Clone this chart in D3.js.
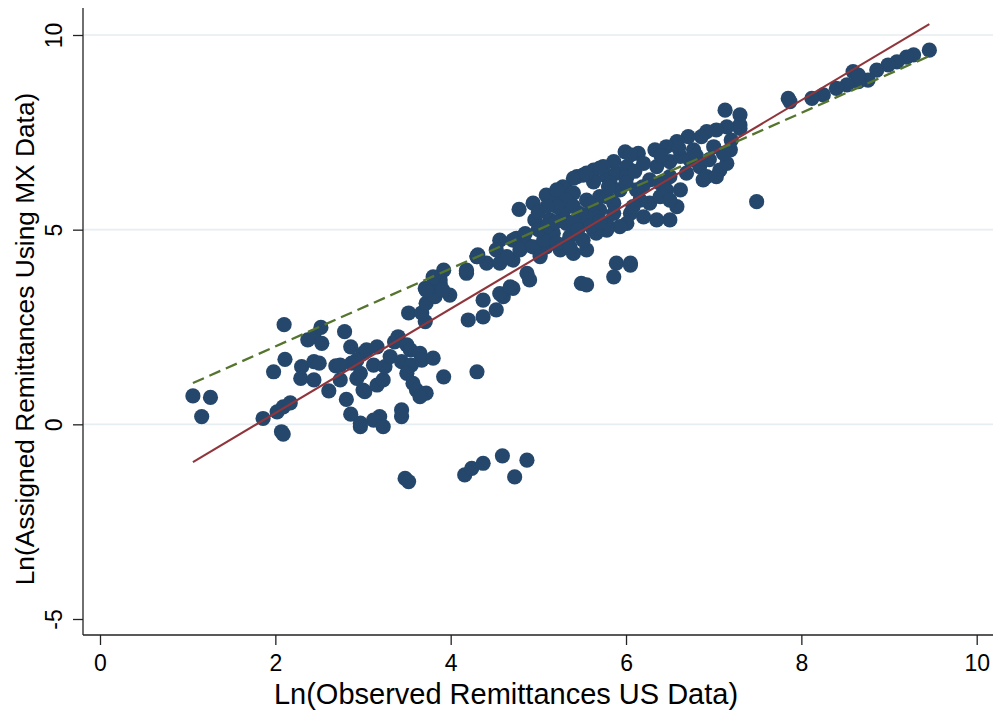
<!DOCTYPE html>
<html>
<head>
<meta charset="utf-8">
<script src="https://cdn.jsdelivr.net/npm/d3@7/dist/d3.min.js"></script>
<style>
  body { margin: 0; background: #fff; }
  svg { display: block; font-family: "Liberation Sans", Arial, Helvetica, sans-serif; }
</style>
</head>
<body>
<svg id="chart" width="996" height="711"></svg>
<script>
// Observed (US data) vs assigned (MX data) log remittances
const obsUS = [
  1.06, 1.26, 1.16, 2.10, 2.11, 1.98, 1.86, 2.02, 2.09, 2.17, 2.07, 2.09, 2.30, 2.29, 2.37, 2.44, 2.52, 2.53, 2.44, 2.50,
  2.44, 2.69, 2.61, 2.79, 2.86, 2.81, 2.86, 2.97, 2.74, 2.93, 2.87, 3.00, 3.00,
  2.74, 2.93, 3.04, 3.16, 2.97, 3.12, 3.02, 3.16, 3.23, 3.25, 3.31, 3.36, 3.40, 3.50, 3.54, 3.44, 3.55, 3.65, 3.67, 3.80,
  3.50, 3.57, 3.61, 3.72, 3.65, 3.92, 4.30, 3.19, 3.12, 2.97, 3.44, 3.44, 3.23,
  3.52, 3.71, 3.67, 3.72, 3.76, 3.71, 3.88, 3.92, 3.99, 3.82, 4.20, 4.37, 4.37, 4.52, 4.60, 4.71, 4.18, 4.30, 4.41, 4.56, 4.71,
  4.16, 4.24, 4.37, 4.59, 4.73, 4.87, 3.48, 3.52,
  4.78, 4.94, 5.09, 4.96, 5.21, 5.32, 5.44, 5.28, 5.47, 4.56, 4.75, 4.52, 4.31, 4.18, 3.88, 4.64, 4.87, 5.02, 5.09, 5.25,
  5.40, 5.55, 4.90, 4.87, 5.49, 5.89, 5.86, 5.17, 5.36, 5.63, 5.78, 5.70, 5.86, 5.55, 5.63, 5.78, 5.89,
  7.13, 7.30, 7.30, 7.15, 7.03, 6.92, 6.86, 6.71, 6.58, 6.46, 6.33, 6.14, 5.99, 5.86, 5.74, 5.63, 5.51, 5.40, 5.28, 6.01,
  6.01, 5.82, 5.63, 6.35, 6.50, 6.62, 6.77, 6.73, 6.27, 6.19, 6.39, 6.50, 6.69, 6.84, 6.92, 7.07, 7.15, 7.19, 7.11, 7.00,
  6.88, 7.03, 6.58, 6.50, 6.35, 6.20, 6.27, 6.39, 6.16, 6.05, 6.01, 5.86, 5.93, 5.78, 5.32, 6.05, 7.49, 5.40, 5.32, 5.70,
  5.93, 5.47, 5.66, 6.12, 6.46, 6.50, 6.62,
  9.46, 9.28, 9.20, 9.09, 8.99, 8.86, 8.76, 8.65, 8.59, 8.65, 8.52, 8.40, 8.25, 8.12, 7.85, 7.87, 7.30,
  5.55, 5.70, 6.05, 5.21, 5.21, 5.78, 5.13, 5.32, 5.55, 6.08, 4.71, 4.79, 4.94, 5.06, 5.21, 5.36, 5.51, 5.66, 5.02, 4.30,
  4.18, 3.80, 3.91, 3.72, 4.56, 4.68, 6.05, 7.20,
  5.00, 5.10, 5.20, 5.40, 5.45, 4.85, 5.60, 5.70, 5.00, 5.10, 5.40, 5.60, 5.80, 6.00, 6.10, 6.20, 6.40, 6.60, 6.80, 6.95,
  5.55
];
const assignedMX = [
  0.73, 0.69, 0.20, 2.56, 1.67, 1.35, 0.15, 0.32, 0.45, 0.55, -0.19, -0.25, 1.48, 1.18, 2.17, 2.25, 2.49, 2.08, 1.61, 1.57,
  1.14, 1.50, 0.86, 2.38, 1.99, 0.64, 0.26, -0.06, 1.14, 1.18, 1.57, 1.82, 0.88,
  1.52, 1.65, 1.91, 1.99, 1.31, 1.52, 0.84, 1.01, 1.14, 1.48, 1.74, 2.12, 2.25, 2.04, 1.91, 1.61, 1.52, 1.82, 1.65, 1.70,
  1.31, 1.05, 0.88, 0.80, 0.71, 1.22, 1.35, 0.20, 0.11, 0.03, 0.37, 0.20, -0.06,
  2.86, 2.64, 2.86, 3.11, 3.45, 3.49, 3.62, 3.96, 3.32, 3.28, 2.68, 3.19, 2.76, 2.94, 3.28, 3.49, 3.92, 4.31, 4.14, 4.14, 4.22,
  -1.30, -1.13, -1.00, -0.81, -1.35, -0.92, -1.39, -1.47,
  5.52, 5.68, 5.89, 5.25, 5.76, 6.02, 6.36, 5.42, 5.16, 4.73, 4.78, 4.48, 4.35, 3.88, 3.71, 4.31, 4.61, 4.39, 4.56, 4.48,
  4.39, 4.48, 3.71, 3.88, 3.62, 4.14, 3.79, 4.91, 4.82, 4.99, 5.16, 5.50, 5.68, 5.76, 6.27, 6.36, 6.45,
  8.07, 7.95, 7.69, 7.64, 7.56, 7.52, 7.39, 7.39, 7.26, 7.13, 7.05, 6.96, 7.00, 6.75, 6.62, 6.53, 6.40, 6.32, 6.10, 6.62,
  6.36, 6.19, 6.23, 6.62, 6.75, 6.88, 7.05, 6.79, 6.28, 6.10, 6.19, 6.36, 6.45, 6.62, 6.36, 6.53, 6.70, 7.05, 6.96, 7.13,
  6.28, 6.36, 5.59, 5.25, 5.25, 5.33, 5.68, 5.85, 5.76, 5.42, 5.16, 5.42, 5.08, 4.99, 4.65, 4.14, 5.72, 5.94, 5.76, 5.85,
  6.02, 5.42, 5.33, 6.02, 6.02, 5.76, 6.02,
  9.61, 9.49, 9.43, 9.31, 9.23, 9.10, 8.84, 8.80, 9.06, 8.97, 8.72, 8.63, 8.46, 8.37, 8.37, 8.29, 7.60,
  6.45, 6.58, 6.92, 6.02, 5.59, 5.85, 5.25, 5.16, 5.33, 5.59, 4.73, 4.48, 4.56, 4.73, 4.65, 4.56, 4.73, 4.91, 4.31, 4.31,
  3.96, 3.79, 3.45, 3.45, 3.36, 3.53, 4.09, 7.30,
  5.00, 5.10, 5.20, 5.20, 5.00, 4.90, 5.10, 5.20, 5.45, 5.60, 5.60, 5.65, 6.10, 6.20, 6.50, 6.70, 6.90, 7.10, 6.90, 6.80,
  3.58
];

// fitted regression line and 45-degree reference line (end points)
const fitX = [1.06, 9.46];
const fitY = [-0.97, 10.28];
const refX = [1.06, 9.46];
const refY = [1.06, 9.46];

const xTicks = [0, 2, 4, 6, 8, 10];
const yTicks = [-5, 0, 5, 10];
const yGrid = [0, 5, 10];

const svg = d3.select("#chart");

// plot frame
const pL = 83, pR = 993, pT = 8, pB = 635;

const x = d3.scaleLinear().domain([0, 10]).range([100, 976.7]);
const y = d3.scaleLinear().domain([-5, 10]).range([619, 35]);

// gridlines
svg.append("g")
  .selectAll("line")
  .data(yGrid)
  .enter()
  .append("line")
  .attr("x1", pL)
  .attr("x2", pR)
  .attr("y1", d => y(d))
  .attr("y2", d => y(d))
  .attr("stroke", "#e6eef1")
  .attr("stroke-width", 1.6);

// points
const pts = obsUS.map((d, i) => [d, assignedMX[i]]);
svg.append("g")
  .selectAll("circle")
  .data(pts)
  .enter()
  .append("circle")
  .attr("cx", d => x(d[0]))
  .attr("cy", d => y(d[1]))
  .attr("r", 7.6)
  .attr("fill", "#24476b");

// lines
const line = d3.line().x(d => x(d[0])).y(d => y(d[1]));
svg.append("path")
  .datum(fitX.map((d, i) => [d, fitY[i]]))
  .attr("d", line)
  .attr("fill", "none")
  .attr("stroke", "#90353b")
  .attr("stroke-width", 2.1);

svg.append("path")
  .datum(refX.map((d, i) => [d, refY[i]]))
  .attr("d", line)
  .attr("fill", "none")
  .attr("stroke", "#55752f")
  .attr("stroke-width", 2.3)
  .attr("stroke-dasharray", "12,6");

// axes (plain hyphen for negatives, like the original)
const fmt = d => String(d);

const yAxis = d3.axisLeft(y).tickValues(yTicks).tickSize(10).tickFormat(fmt);
const gy = svg.append("g")
  .attr("transform", `translate(${pL},0)`)
  .call(yAxis);
gy.select(".domain").remove();
gy.selectAll(".tick line").attr("stroke", "#222").attr("stroke-width", 1.3);
gy.selectAll(".tick text")
  .attr("x", null).attr("dy", null)
  .attr("transform", "translate(-21,0) rotate(-90)")
  .attr("text-anchor", "middle")
  .attr("fill", "#000")
  .style("font-size", "23px");

const xAxis = d3.axisBottom(x).tickValues(xTicks).tickSize(10).tickFormat(fmt);
const gx = svg.append("g")
  .attr("transform", `translate(0,${pB})`)
  .call(xAxis);
gx.select(".domain").remove();
gx.selectAll(".tick line").attr("stroke", "#222").attr("stroke-width", 1.3);
gx.selectAll(".tick text")
  .attr("y", 35.5).attr("dy", null)
  .attr("fill", "#000")
  .style("font-size", "23px");

// axis spines
svg.append("line")
  .attr("x1", pL).attr("x2", pL).attr("y1", pT).attr("y2", pB)
  .attr("stroke", "#222").attr("stroke-width", 1.3);
svg.append("line")
  .attr("x1", pL).attr("x2", pR).attr("y1", pB).attr("y2", pB)
  .attr("stroke", "#222").attr("stroke-width", 1.3);

// titles
svg.append("text")
  .attr("x", 506)
  .attr("y", 704)
  .attr("text-anchor", "middle")
  .style("font-size", "29px")
  .text("Ln(Observed Remittances US Data)");

svg.append("text")
  .attr("transform", "translate(34,339) rotate(-90)")
  .attr("text-anchor", "middle")
  .style("font-size", "26.3px")
  .text("Ln(Assigned Remittances Using MX Data)");
</script>
</body>
</html>
